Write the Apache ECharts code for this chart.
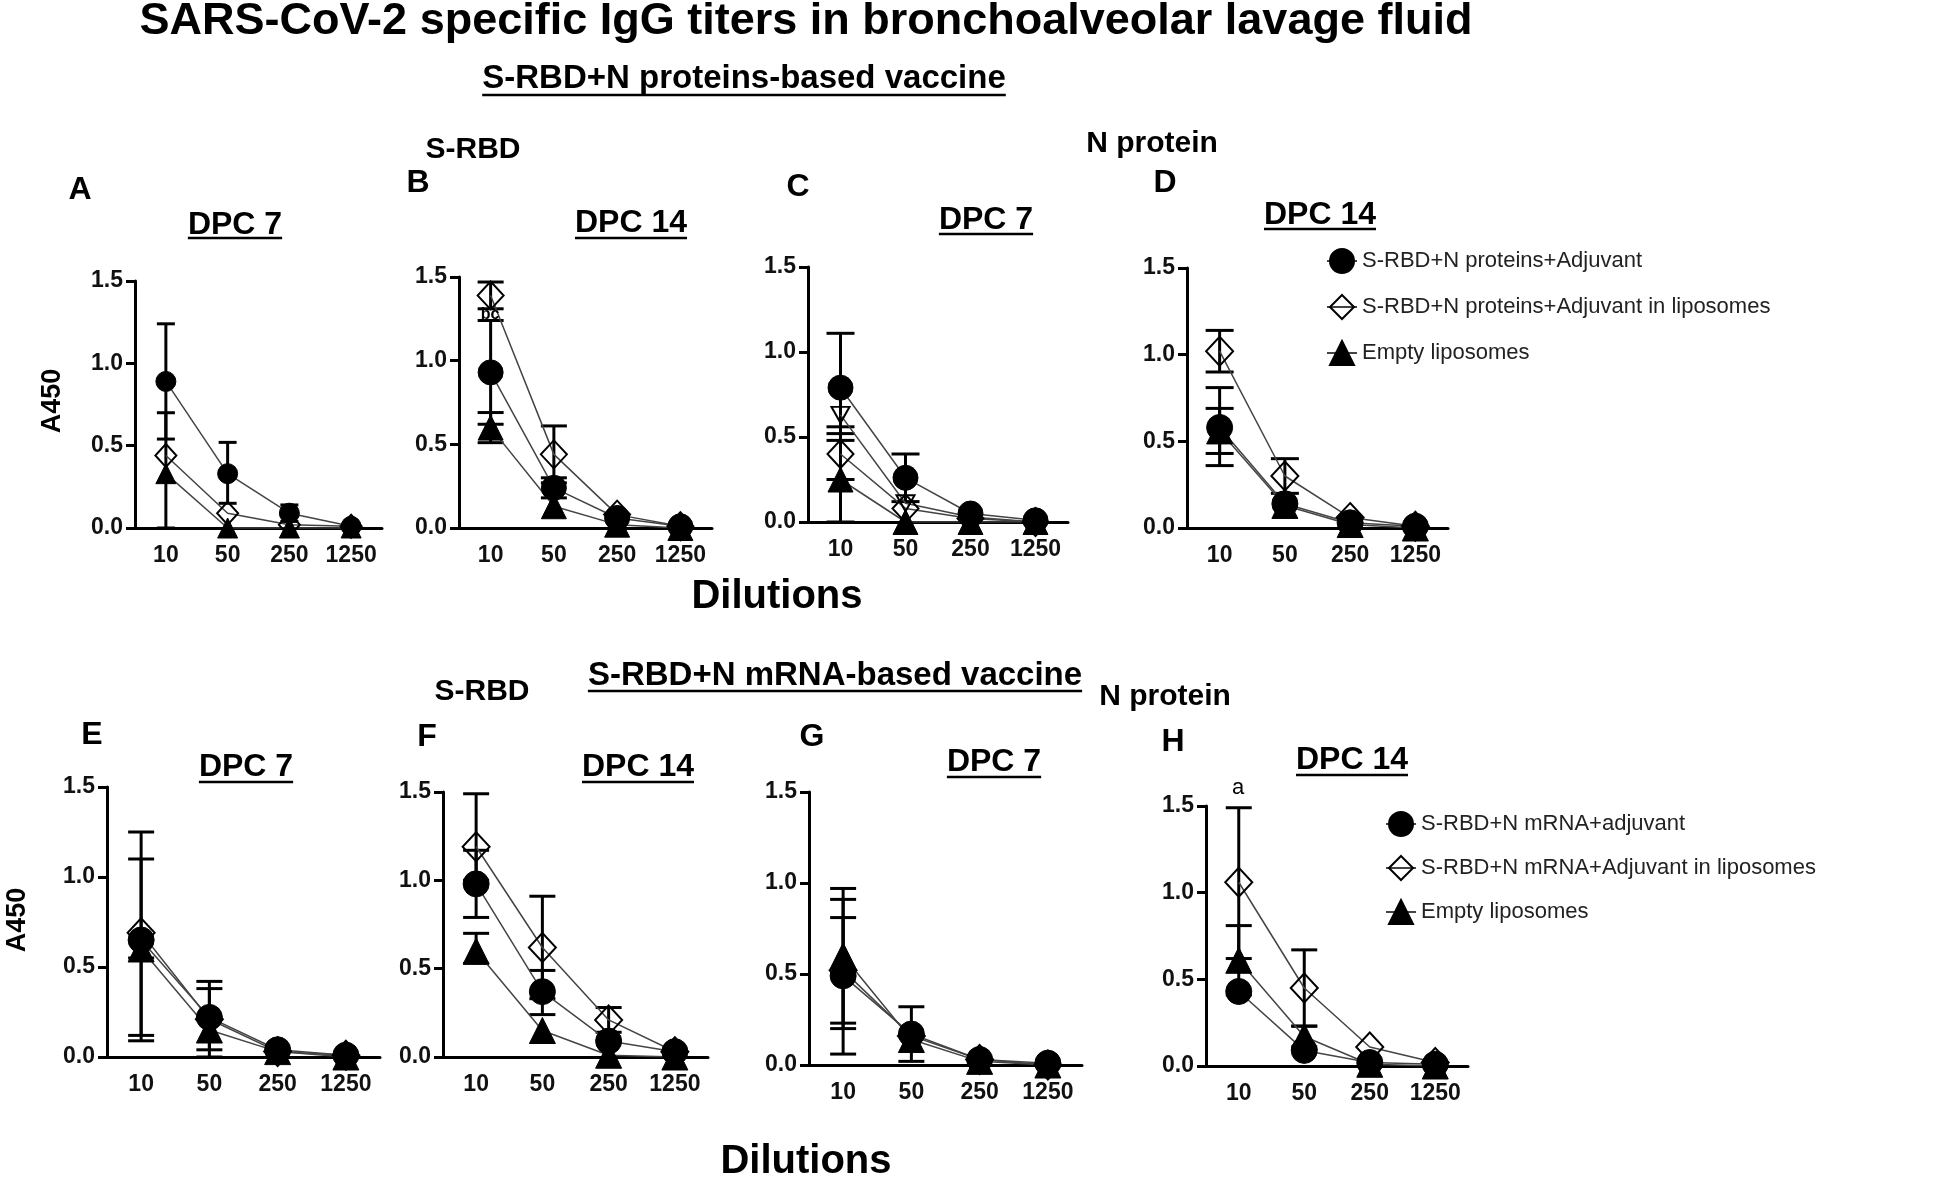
<!DOCTYPE html>
<html><head><meta charset="utf-8">
<script src="https://cdn.jsdelivr.net/npm/echarts@6/dist/echarts.min.js"></script>
<style>html,body{margin:0;padding:0;background:#fff}#chart{width:1959px;height:1178px}</style>
</head><body><div id="chart"></div>
<script>
// ---------- DATA ----------
const dilutions = ['10', '50', '250', '1250'];
const yTickLabels = ['0.0', '0.5', '1.0', '1.5'];
const proteinGroups = ['S-RBD+N proteins+Adjuvant', 'S-RBD+N proteins+Adjuvant in liposomes', 'Empty liposomes'];
const mrnaGroups = ['S-RBD+N mRNA+adjuvant', 'S-RBD+N mRNA+Adjuvant in liposomes', 'Empty liposomes'];

// Panel A: S-RBD, proteins, DPC 7
const A_circle = [0.89, 0.33, 0.09, 0.01];
const A_diamond = [0.44, 0.09, 0.02, 0.01];
const A_triangle = [0.33, 0.00, 0.00, 0.00];
const A_circleErr = [[0.54, 1.24], [0.15, 0.52], [0.04, 0.14], null];
const A_diamondErr = [null, null, null, null];
const A_triangleErr = [[0.00, 0.70], null, null, null];
// Panel B: S-RBD, proteins, DPC 14
const B_circle = [0.93, 0.24, 0.06, 0.01];
const B_diamond = [1.39, 0.44, 0.08, 0.01];
const B_triangle = [0.60, 0.13, 0.02, 0.00];
const B_circleErr = [[0.62, 1.24], [0.18, 0.30], null, null];
const B_diamondErr = [[1.31, 1.47], [0.27, 0.61], null, null];
const B_triangleErr = [[0.51, 0.69], null, null, null];
// Panel C: N protein, proteins, DPC 7
const C_circle = [0.79, 0.26, 0.05, 0.01];
const C_diamond = [0.40, 0.08, 0.02, 0.00];
const C_triangle = [0.25, 0.00, 0.00, 0.00];
const C_inverted = [0.63, 0.11, 0.03, 0.00];
const C_circleErr = [[0.48, 1.11], [0.12, 0.40], null, null];
const C_diamondErr = [[0.25, 0.56], null, null, null];
const C_triangleErr = [[0.00, 0.52], null, null, null];
// Panel D: N protein, proteins, DPC 14
const D_circle = [0.58, 0.14, 0.03, 0.01];
const D_diamond = [1.02, 0.30, 0.06, 0.01];
const D_triangle = [0.56, 0.13, 0.02, 0.00];
const D_circleErr = [[0.36, 0.81], null, null, null];
const D_diamondErr = [[0.90, 1.14], [0.20, 0.40], null, null];
const D_triangleErr = [[0.43, 0.69], null, null, null];
// Panel E: S-RBD, mRNA, DPC 7
const E_circle = [0.65, 0.22, 0.04, 0.01];
const E_diamond = [0.69, 0.21, 0.03, 0.01];
const E_triangle = [0.60, 0.15, 0.03, 0.00];
const E_circleErr = [[0.09, 1.10], [0.00, 0.42], null, null];
const E_diamondErr = [[0.12, 1.25], [0.04, 0.38], null, null];
const E_triangleErr = [[0.55, 0.65], null, null, null];
// Panel F: S-RBD, mRNA, DPC 14
const F_circle = [0.98, 0.37, 0.09, 0.03];
const F_diamond = [1.19, 0.62, 0.21, 0.03];
const F_triangle = [0.60, 0.15, 0.01, 0.00];
const F_circleErr = [[0.79, 1.17], [0.24, 0.49], null, null];
const F_diamondErr = [[1.00, 1.49], [0.33, 0.91], [0.14, 0.28], null];
const F_triangleErr = [[0.53, 0.70], null, null, null];
// Panel G: N protein, mRNA, DPC 7
const G_circle = [0.49, 0.17, 0.03, 0.01];
const G_diamond = [0.52, 0.16, 0.03, 0.00];
const G_triangle = [0.60, 0.14, 0.02, 0.00];
const G_circleErr = [[0.06, 0.91], [0.02, 0.32], null, null];
const G_diamondErr = [[0.20, 0.81], null, null, null];
const G_triangleErr = [[0.23, 0.97], null, null, null];
// Panel H: N protein, mRNA, DPC 14
const H_circle = [0.43, 0.09, 0.02, 0.01];
const H_diamond = [1.06, 0.45, 0.11, 0.02];
const H_triangle = [0.61, 0.17, 0.01, 0.00];
const H_circleErr = [null, null, null, null];
const H_diamondErr = [[0.62, 1.49], [0.23, 0.67], null, null];
const H_triangleErr = [[0.41, 0.81], [0.11, 0.23], null, null];

// ---------- LAYOUT ----------
const FONT = "'Liberation Sans', Arial, Helvetica, sans-serif";
const panels = [
  {grid: {left: 135, top: 281, width: 247, height: 247}, sym: 20, cap: 9,
   groups: proteinGroups, data: [A_circle, A_diamond, A_triangle], err: [A_circleErr, A_diamondErr, A_triangleErr]},
  {grid: {left: 459, top: 277, width: 253, height: 251}, sym: 25, cap: 13,
   groups: proteinGroups, data: [B_circle, B_diamond, B_triangle], err: [B_circleErr, B_diamondErr, B_triangleErr]},
  {grid: {left: 808, top: 267, width: 260, height: 255}, sym: 25, cap: 14,
   groups: proteinGroups, data: [C_circle, C_diamond, C_triangle], err: [C_circleErr, C_diamondErr, C_triangleErr], extra: C_inverted},
  {grid: {left: 1187, top: 268, width: 261, height: 260}, sym: 26, cap: 14,
   groups: proteinGroups, data: [D_circle, D_diamond, D_triangle], err: [D_circleErr, D_diamondErr, D_triangleErr]},
  {grid: {left: 107, top: 787, width: 273, height: 270}, sym: 26, cap: 13,
   groups: mrnaGroups, data: [E_circle, E_diamond, E_triangle], err: [E_circleErr, E_diamondErr, E_triangleErr]},
  {grid: {left: 443, top: 792, width: 265, height: 265}, sym: 26, cap: 13,
   groups: mrnaGroups, data: [F_circle, F_diamond, F_triangle], err: [F_circleErr, F_diamondErr, F_triangleErr]},
  {grid: {left: 809, top: 792, width: 273, height: 273}, sym: 26, cap: 13,
   groups: mrnaGroups, data: [G_circle, G_diamond, G_triangle], err: [G_circleErr, G_diamondErr, G_triangleErr]},
  {grid: {left: 1206, top: 806, width: 262, height: 260}, sym: 26, cap: 13,
   groups: mrnaGroups, data: [H_circle, H_diamond, H_triangle], err: [H_circleErr, H_diamondErr, H_triangleErr]}
];

const symbolDefs = [
  {symbol: 'circle', size: s => s, style: {color: '#000', borderColor: '#000', borderWidth: 1}},
  {symbol: 'diamond', size: s => [s + 1, s + 3], style: {color: 'rgba(255,255,255,0)', borderColor: '#000', borderWidth: 2}},
  {symbol: 'triangle', size: s => s, style: {color: '#000', borderColor: '#000', borderWidth: 1}}
];

const grids = [], xAxes = [], yAxes = [], series = [];
const axisLabelStyle = {color: '#111', fontFamily: FONT, fontWeight: 'bold', fontSize: 23};

function errRenderer(capHalf) {
  return function (params, api) {
    const x = api.value(0), lo = api.value(1), hi = api.value(2);
    const pHi = api.coord([x, hi]);
    const pLo = api.coord([x, lo]);
    const st = {stroke: '#000', lineWidth: 3};
    return {type: 'group', children: [
      {type: 'line', shape: {x1: pHi[0], y1: pHi[1], x2: pLo[0], y2: pLo[1]}, style: st},
      {type: 'line', shape: {x1: pHi[0] - capHalf, y1: pHi[1], x2: pHi[0] + capHalf, y2: pHi[1]}, style: st},
      {type: 'line', shape: {x1: pLo[0] - capHalf, y1: pLo[1], x2: pLo[0] + capHalf, y2: pLo[1]}, style: st}
    ]};
  };
}

panels.forEach((p, i) => {
  grids.push(Object.assign({containLabel: false}, p.grid));
  xAxes.push({
    type: 'category', gridIndex: i, data: dilutions, boundaryGap: true,
    axisLine: {lineStyle: {color: '#000', width: 3}},
    axisTick: {alignWithLabel: true, length: 9, lineStyle: {color: '#000', width: 3}},
    axisLabel: Object.assign({margin: 16, interval: 0}, axisLabelStyle),
    splitLine: {show: false}
  });
  yAxes.push({
    type: 'value', gridIndex: i, min: 0, max: 1.5, interval: 0.5,
    axisLine: {show: true, lineStyle: {color: '#000', width: 3}},
    axisTick: {show: true, length: 9, lineStyle: {color: '#000', width: 3}},
    axisLabel: Object.assign({margin: 12, formatter: v => yTickLabels[Math.round(v / 0.5)]}, axisLabelStyle),
    splitLine: {show: false}
  });
  p.data.forEach((vals, g) => {
    const def = symbolDefs[g];
    series.push({
      type: 'line', name: p.groups[g], xAxisIndex: i, yAxisIndex: i, z: 3,
      data: vals, symbol: def.symbol, symbolSize: def.size(p.sym),
      itemStyle: def.style, lineStyle: {color: '#444', width: 1.5},
      showAllSymbol: true, animation: false, emphasis: {disabled: true}
    });
    const errData = [];
    p.err[g].forEach((e, k) => { if (e) errData.push([k, e[0], e[1]]); });
    series.push({
      type: 'custom', name: p.groups[g], xAxisIndex: i, yAxisIndex: i, z: 2,
      renderItem: errRenderer(p.cap), data: errData, animation: false, silent: true
    });
  });
  if (p.extra) {
    series.push({
      type: 'line', name: 'Unlabelled group', xAxisIndex: i, yAxisIndex: i, z: 3,
      data: p.extra, symbol: 'path://M0,0 L10,0 L5,9 Z', symbolSize: [18, 16],
      itemStyle: {color: 'rgba(255,255,255,0)', borderColor: '#000', borderWidth: 2},
      lineStyle: {color: '#444', width: 1.5}, animation: false
    });
  }
});

// ---------- TEXT ----------
const measureCtx = document.createElement('canvas').getContext('2d');
function textW(t, font) { measureCtx.font = font; return measureCtx.measureText(t).width; }
const graphics = [];
function addText(t, x, y, size, weight, opts) {
  opts = opts || {};
  graphics.push({
    type: 'text', x: x, y: y, rotation: opts.rotation || 0, z: 10,
    style: {text: t, font: weight + ' ' + size + 'px ' + FONT, fill: opts.color || '#000',
      textAlign: 'center', textVerticalAlign: 'middle'}
  });
  if (opts.underline) {
    const w = textW(t, weight + ' ' + size + 'px ' + FONT);
    graphics.push({type: 'line', z: 10, shape: {x1: x - w / 2, y1: opts.underline, x2: x + w / 2, y2: opts.underline},
      style: {stroke: '#000', lineWidth: 2.5}});
  }
}
addText('SARS-CoV-2 specific IgG titers in bronchoalveolar lavage fluid', 806, 22, 45, 'bold');
addText('S-RBD+N proteins-based vaccine', 744, 79, 33, 'bold', {underline: 95});
addText('S-RBD+N mRNA-based vaccine', 835, 676, 33, 'bold', {underline: 691});
addText('S-RBD', 473, 150, 30, 'bold');
addText('N protein', 1152, 144, 30, 'bold');
addText('S-RBD', 482, 692, 30, 'bold');
addText('N protein', 1165, 697, 30, 'bold');
const letters = [['A', 80, 190], ['B', 418, 183], ['C', 798, 187], ['D', 1165, 183],
                 ['E', 92, 735], ['F', 427, 737], ['G', 812, 737], ['H', 1173, 742]];
letters.forEach(l => addText(l[0], l[1], l[2], 32, 'bold'));
const dpc = [['DPC 7', 235, 225, 238], ['DPC 14', 631, 223, 238], ['DPC 7', 986, 220, 234], ['DPC 14', 1320, 215, 229],
             ['DPC 7', 246, 767, 782], ['DPC 14', 638, 767, 782], ['DPC 7', 994, 762, 777], ['DPC 14', 1352, 760, 775]];
dpc.forEach(d => addText(d[0], d[1], d[2], 32, 'bold', {underline: d[3]}));
addText('A450', 53, 401, 27, 'bold', {rotation: Math.PI / 2});
addText('A450', 18, 920, 27, 'bold', {rotation: Math.PI / 2});
addText('Dilutions', 777, 597, 40, 'bold');
addText('Dilutions', 806, 1162, 40, 'bold');
addText('bc', 490, 315, 16, 'bold');
addText('a', 1238, 788, 22, 'normal');

const legendText = {fontSize: 22, color: '#222', fontFamily: FONT};
const option = {
  backgroundColor: '#fff',
  animation: false,
  grid: grids, xAxis: xAxes, yAxis: yAxes, series: series,
  legend: [
    {orient: 'vertical', left: 1321, top: 243, itemWidth: 30, itemHeight: 30, itemGap: 20,
     data: proteinGroups, textStyle: legendText, selectedMode: false},
    {orient: 'vertical', left: 1380, top: 806, itemWidth: 30, itemHeight: 30, itemGap: 18,
     data: mrnaGroups, textStyle: legendText, selectedMode: false}
  ],
  graphic: graphics
};
const chart = echarts.init(document.getElementById('chart'), null, {renderer: 'canvas'});
chart.setOption(option);
</script></body></html>
